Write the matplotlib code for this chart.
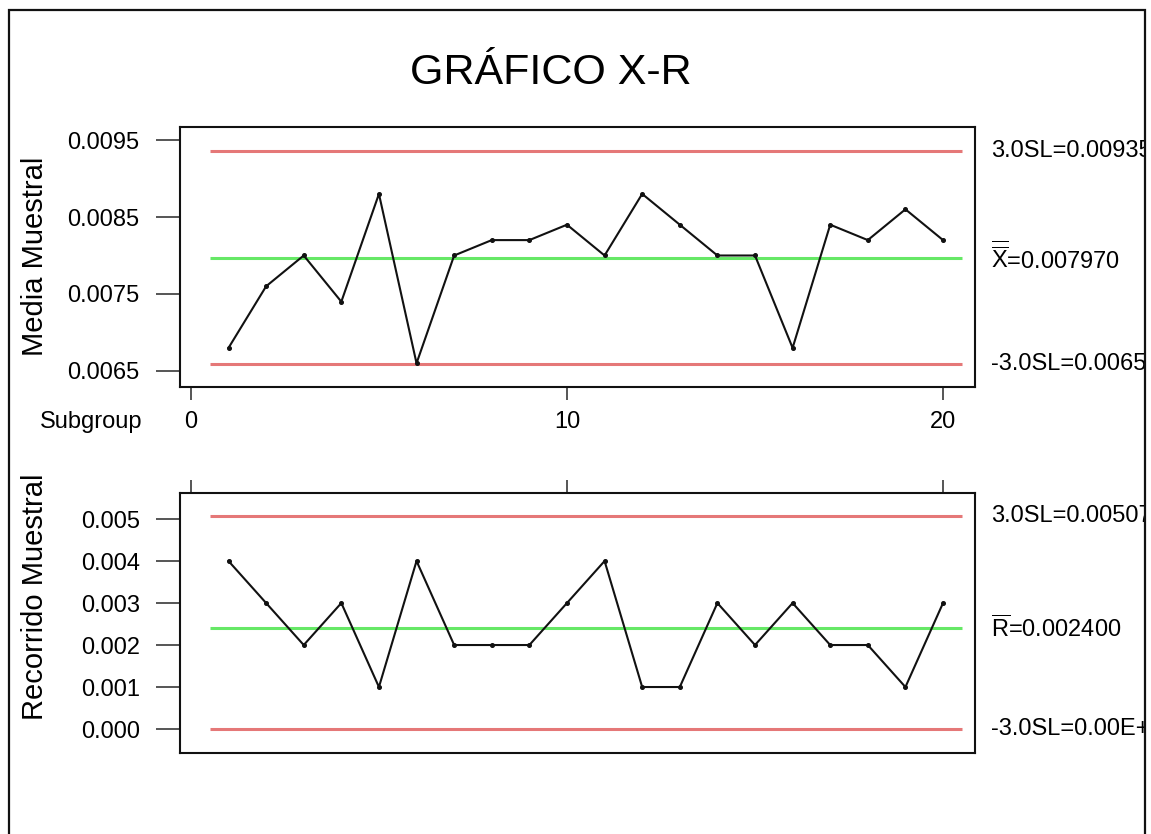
import matplotlib
matplotlib.use("Agg")
import matplotlib.pyplot as plt
from matplotlib.patches import Rectangle
import numpy as np

plt.rcParams['font.family'] = ['Liberation Sans', 'DejaVu Sans']
plt.rcParams['mathtext.fontset'] = 'custom'
plt.rcParams['mathtext.rm'] = 'Liberation Sans'
plt.rcParams['mathtext.it'] = 'Liberation Sans'
plt.rcParams['mathtext.bf'] = 'Liberation Sans'

# ---- data ----
subgroups = list(range(1, 21))
xbar_values = [0.0068, 0.0076, 0.0080, 0.0074, 0.0088, 0.0066, 0.0080, 0.0082, 0.0082, 0.0084,
               0.0080, 0.0088, 0.0084, 0.0080, 0.0080, 0.0068, 0.0084, 0.0082, 0.0086, 0.0082]
range_values = [0.004, 0.003, 0.002, 0.003, 0.001, 0.004, 0.002, 0.002, 0.002, 0.003,
                0.004, 0.001, 0.001, 0.003, 0.002, 0.003, 0.002, 0.002, 0.001, 0.003]
A2, D3, D4 = 0.577, 0.0, 2.114  # subgroup size 5

xbarbar = float(np.mean(xbar_values))
rbar = float(np.mean(range_values))
x_ucl = xbarbar + A2 * rbar
x_lcl = xbarbar - A2 * rbar
r_ucl = D4 * rbar
r_lcl = D3 * rbar

xbar_yticks = [0.0065, 0.0075, 0.0085, 0.0095]
xbar_yticklabels = ["0.0065", "0.0075", "0.0085", "0.0095"]
r_yticks = [0.000, 0.001, 0.002, 0.003, 0.004, 0.005]
r_yticklabels = ["0.000", "0.001", "0.002", "0.003", "0.004", "0.005"]
x_ticks = [0, 10, 20]

title = "GRÁFICO X-R"
ylabel_top = "Media Muestral"
ylabel_bottom = "Recorrido Muestral"

W, H = 1151, 834
fig = plt.figure(figsize=(W / 100, H / 100), dpi=100)

RED = '#e57878'
GREEN = '#66e866'
TICKC = '#555555'

def px_ax(x0, y0, x1, y1):
    return [x0 / W, 1 - y1 / H, (x1 - x0) / W, (y1 - y0) / H]

ax1 = fig.add_axes(px_ax(180, 127, 975, 387))
ax2 = fig.add_axes(px_ax(180, 493, 975, 753))

xlim = (-0.29, 20.85)
for ax in (ax1, ax2):
    ax.set_xlim(*xlim)
    for s in ax.spines.values():
        s.set_linewidth(1.5)
        s.set_color('#111111')

# top chart
ax1.set_ylim(0.006292, 0.009669)
ax1.hlines([x_ucl, x_lcl], 0.5, 20.5, color=RED, lw=2.2)
ax1.hlines([xbarbar], 0.5, 20.5, color=GREEN, lw=2.2)
ax1.plot(subgroups, xbar_values, color='#111111', lw=1.5, marker='o', ms=2.6)
ax1.set_yticks(xbar_yticks)
ax1.set_yticklabels(xbar_yticklabels)
ax1.set_xticks(x_ticks)
ax1.set_xticklabels([str(t) for t in x_ticks])
ax1.tick_params(axis='y', direction='out', length=17, width=1.4, color=TICKC,
                labelsize=17, pad=12)
ax1.tick_params(axis='x', direction='out', length=9.5, width=1.4, color=TICKC,
                labelsize=17, pad=8)

# bottom chart
ax2.set_ylim(-0.000571, 0.00562)
ax2.hlines([r_ucl, r_lcl], 0.5, 20.5, color=RED, lw=2.2)
ax2.hlines([rbar], 0.5, 20.5, color=GREEN, lw=2.2)
ax2.plot(subgroups, range_values, color='#111111', lw=1.5, marker='o', ms=2.6)
ax2.set_yticks(r_yticks)
ax2.set_yticklabels(r_yticklabels)
ax2.set_xticks(x_ticks)
ax2.tick_params(axis='x', direction='out', length=9.5, width=1.4, color=TICKC,
                bottom=False, top=True, labelbottom=False, labeltop=False)
ax2.tick_params(axis='y', direction='out', length=17, width=1.4, color=TICKC,
                labelsize=17, pad=12)

# title & labels
fig.text(551 / W, 1 - 73 / H, title, ha='center', va='center', fontsize=31)
fig.text(35 / W, 1 - 256 / H, ylabel_top, rotation=90, ha='center', va='center', fontsize=21)
fig.text(35 / W, 1 - 597 / H, ylabel_bottom, rotation=90, ha='center', va='center', fontsize=21)
fig.text(91 / W, 1 - 422 / H, "Subgroup", ha='center', va='center', fontsize=17)

# right-side limit labels (positioned at the line values)
lab_x = 991 / W
def right_label(ax, yval, s):
    y_disp = ax.transData.transform((0, yval))[1]
    yf = y_disp / H
    fig.text(lab_x, yf, s, ha='left', va='center', fontsize=17)

right_label(ax1, x_ucl, "3.0SL=%.6f" % x_ucl)
right_label(ax1, xbarbar, r"$\overline{\overline{\mathrm{X}}}$=%.6f" % xbarbar)
right_label(ax1, x_lcl, "-3.0SL=%.6f" % x_lcl)
right_label(ax2, r_ucl, "3.0SL=%.6f" % r_ucl)
right_label(ax2, rbar, r"$\overline{\mathrm{R}}$=%.6f" % rbar)
right_label(ax2, r_lcl, "-3.0SL=%.2E" % r_lcl)

# white mask beyond the frame and the outer frame
fig.patches.append(Rectangle((1146 / W, 0), 1 - 1146 / W, 1, transform=fig.transFigure,
                             facecolor='white', edgecolor='none', zorder=50))
fig.patches.append(Rectangle((8.5 / W, -0.1), (1145 - 8.5) / W, 1.1 - 10 / H,
                             transform=fig.transFigure, facecolor='none',
                             edgecolor='#111111', lw=1.6, zorder=51))

fig.savefig("out.png", dpi=100, facecolor='white')
